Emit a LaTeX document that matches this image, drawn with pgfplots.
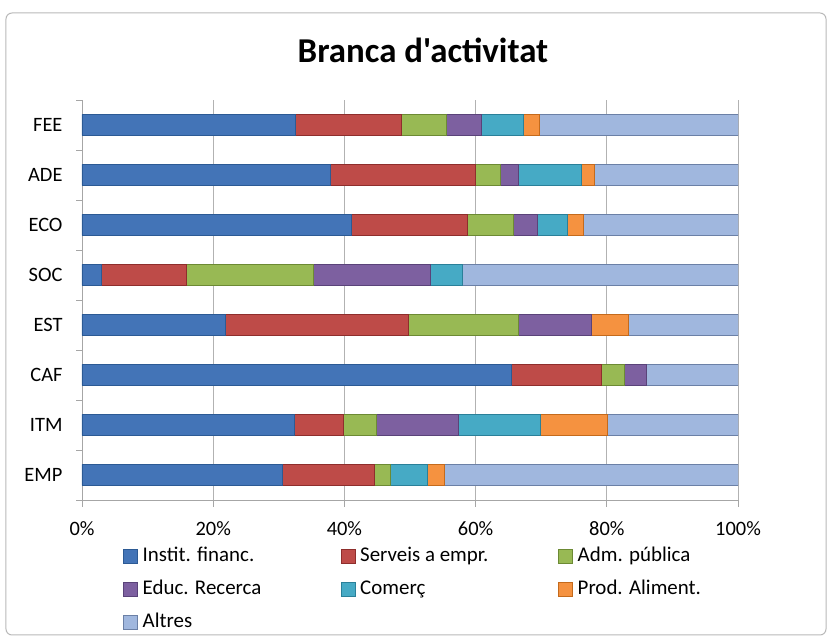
\documentclass[border=0pt]{standalone}
\usepackage{pgfplots}
\usepackage{pgfplotstable}
\pgfplotsset{compat=1.18}
\usepackage{fontspec}
\setmainfont{Carlito}[Ligatures=TeXOff]

\definecolor{c1}{HTML}{4374B7}\definecolor{c1b}{HTML}{2C5A94}
\definecolor{c2}{HTML}{BE4B48}\definecolor{c2b}{HTML}{8E2E2C}
\definecolor{c3}{HTML}{98B954}\definecolor{c3b}{HTML}{6C8A34}
\definecolor{c4}{HTML}{7D60A0}\definecolor{c4b}{HTML}{5A4379}
\definecolor{c5}{HTML}{46AAC5}\definecolor{c5b}{HTML}{2A8099}
\definecolor{c6}{HTML}{F59240}\definecolor{c6b}{HTML}{C46A1C}
\definecolor{c7}{HTML}{A0B7DE}\definecolor{c7b}{HTML}{6B80A6}

\pgfplotstableread{
idx inst serv adm educ com prod alt
0 30.6 13.9 2.5 0 5.7 2.5 44.8
1 32.3 7.6 5.0 12.4 12.6 10.1 20.0
2 65.4 13.8 3.5 3.3 0 0 14.0
3 21.9 27.9 16.7 11.1 0 5.6 16.8
4 3.0 12.9 19.4 17.8 4.8 0 42.1
5 41.0 17.8 6.9 3.7 4.6 2.4 23.6
6 37.8 22.1 3.8 2.8 9.6 2.0 21.9
7 32.5 16.2 6.8 5.4 6.3 2.5 30.3
}\datatab

\pgfplotsset{
  barst/.style={fill=#1, draw=#1b, line width=0.5bp,
    legend image code/.code={\path[##1] (0bp,-7bp) rectangle (14bp,7bp);}},
}

\begin{document}
\begin{tikzpicture}[x=1bp,y=1bp]
\path[use as bounding box] (-82,-137) rectangle (748,500);
\draw[gray!55, rounded corners=6bp, line width=1bp] (-76,-135) rectangle (744,487);
\node[anchor=base, font=\fontsize{35}{38}\selectfont\bfseries, inner sep=0pt] at (341,437) {Branca d'activitat};
\begin{axis}[
  at={(0,0)}, anchor=south west, scale only axis,
  width=656bp, height=400bp,
  xbar stacked, bar width=21bp,
  xmin=0, xmax=100, ymin=-0.5, ymax=7.5,
  axis x line*=bottom, axis y line*=left,
  axis line style={gray!70, line width=0.8bp},
  xtick={0,20,...,100},
  xticklabels={0\%,20\%,40\%,60\%,80\%,100\%},
  xmajorgrids, grid style={gray!60, line width=0.8bp},
  ytick={0,...,7},
  yticklabels={EMP,ITM,CAF,EST,SOC,ECO,ADE,FEE},
  minor ytick={-0.5,0.5,...,7.5},
  major y tick style={draw=none},
  minor y tick style={gray!70, line width=0.8bp},
  major x tick style={gray!70, line width=0.8bp},
  tick align=outside,
  major tick length=7bp, minor tick length=6bp,
  tick label style={font=\fontsize{20.5}{22}\selectfont},
  yticklabel style={xshift=-9bp},
  xticklabel style={yshift=-11bp},
  legend columns=3,
  legend style={at={(axis description cs:0.0625,-0.12)}, anchor=north west,
    draw=none, fill=none, inner sep=0pt, font=\fontsize{21}{23}\selectfont,
    nodes={inner sep=0pt, text height=13bp, text depth=4bp},
    row sep=16bp},
  legend cell align=left,
]
\addplot[barst=c1] table[x=inst, y=idx] {\datatab};
\addlegendentry{\makebox[203bp][l]{\hspace{5bp}Instit. financ.}}
\addplot[barst=c2] table[x=serv, y=idx] {\datatab};
\addlegendentry{\makebox[203bp][l]{\hspace{5bp}Serveis a empr.}}
\addplot[barst=c3] table[x=adm, y=idx] {\datatab};
\addlegendentry{\makebox[203bp][l]{\hspace{5bp}Adm. pública}}
\addplot[barst=c4] table[x=educ, y=idx] {\datatab};
\addlegendentry{\makebox[203bp][l]{\hspace{5bp}Educ. Recerca}}
\addplot[barst=c5] table[x=com, y=idx] {\datatab};
\addlegendentry{\makebox[203bp][l]{\hspace{5bp}Comerç}}
\addplot[barst=c6] table[x=prod, y=idx] {\datatab};
\addlegendentry{\makebox[203bp][l]{\hspace{5bp}Prod. Aliment.}}
\addplot[barst=c7] table[x=alt, y=idx] {\datatab};
\addlegendentry{\makebox[203bp][l]{\hspace{5bp}Altres}}
\end{axis}
\end{tikzpicture}
\end{document}
